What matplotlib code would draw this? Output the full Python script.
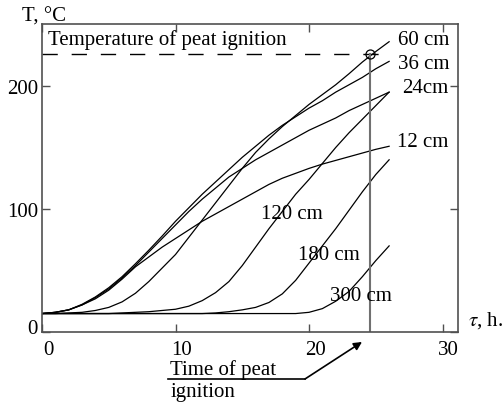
import matplotlib
matplotlib.use("Agg")
import matplotlib.pyplot as plt
from matplotlib.transforms import ScaledTranslation

plt.rcParams["font.family"] = ["Liberation Serif", "DejaVu Serif"]
plt.rcParams["font.size"] = 15

# ---- data ----
hours = [0, 1, 2, 3, 4, 5, 6, 7, 8, 9, 10, 11, 12, 13, 14, 15, 16, 17, 18, 19, 20, 21, 22, 23, 24, 25, 26]

temp_12 = [15, 16, 18, 22, 27, 34, 43, 53, 61, 69, 76, 83, 90, 96, 102, 108, 114, 120, 125, 129, 133, 136.5, 139.5, 142.5, 145.5, 148.5, 151]
temp_24 = [15, 16, 18, 22, 28, 35, 44, 54, 65, 76, 87, 98, 108, 117, 126, 133, 140, 146, 152, 158, 164, 169, 174, 180, 185, 190, 195]
temp_36 = [15, 16, 18, 22.5, 28.5, 36, 45, 55.5, 66.5, 78, 90, 101, 112, 122, 132, 142, 151, 160, 168, 175, 182, 188, 195, 201, 207, 214, 220]
temp_60 = [15, 15, 15.5, 16, 17.5, 20, 24.5, 31.5, 41, 52, 63, 77, 91, 105, 119, 133, 146, 157, 167, 176, 185, 193, 201, 210, 219.5, 228, 236]
temp_120 = [15, 15, 15, 15, 15, 15, 15.5, 16, 16.5, 17.5, 18.5, 21, 25.5, 32, 41, 54, 69, 84, 98, 112, 124, 137, 150, 162, 173, 184, 195]
temp_180 = [15, 15, 15, 15, 15, 15, 15, 15, 15, 15, 15, 15, 15, 15.5, 16.5, 18, 20, 24, 31, 42, 56, 70, 84, 99, 114, 128, 140]
temp_300 = [15, 15, 15, 15, 15, 15, 15, 15, 15, 15, 15, 15, 15, 15, 15, 15, 15, 15, 15, 15, 16, 19, 25, 33, 45, 58, 70]

ignition_time = 24.6
ignition_temp = 226

x_ticks = [0, 10, 20, 30]
y_ticks = [0, 100, 200]

# ---- figure ----
fig = plt.figure(figsize=(5.03, 4.06), dpi=100)
ax = fig.add_axes([42 / 503, 1 - 333 / 406, 416 / 503, 308 / 406])
ax.set_xlim(0, 31.16)
ax.set_ylim(0, 250.4)

for series in [temp_12, temp_24, temp_36, temp_60, temp_120, temp_180, temp_300]:
    ax.plot(hours, series, color="black", lw=0.9)

# ignition temperature and time
ax.plot([0, 25.5], [ignition_temp, ignition_temp], color="black", lw=1.0,
        linestyle=(0, (11, 10)))
ax.plot([ignition_time, ignition_time], [0, ignition_temp], color="#707070", lw=1.5)
ax.plot([ignition_time], [ignition_temp], marker="o", ms=6.5, mfc="none",
        mec="black", mew=0.9)

# curve labels
ax.text(26.7, 238, "60 cm", ha="left", va="center", clip_on=False)
ax.text(26.7, 218.5, "36 cm", ha="left", va="center", clip_on=False)
ax.text(26.95, 199, "24cm", ha="left", va="center", clip_on=False)
ax.text(26.6, 154.5, "12 cm", ha="left", va="center", clip_on=False)
ax.text(18.7, 96.5, "120 cm", ha="center", va="center")
ax.text(21.5, 63, "180 cm", ha="center", va="center")
ax.text(23.9, 30, "300 cm", ha="center", va="center")
ax.text(0.45, 238.5, "Temperature of peat ignition", ha="left", va="center")

# axis titles
ax.text(-1.5, 257, "T, °C", ha="left", va="center", clip_on=False)
ax.text(31.9, 10.5, r"$\tau$, h.", ha="left", va="center", clip_on=False,
        math_fontfamily="stix")

# time of ignition note with arrow
ax.text(9.6, -30, "Time of peat", ha="left", va="center", clip_on=False)
ax.text(9.6, -48, "ignition", ha="left", va="center", clip_on=False)
ax.plot([9.44, 19.7], [-38.2, -38.2], color="black", lw=1.2, clip_on=False)
ax.annotate("", xy=(23.97, -8.1), xytext=(19.7, -38.2),
            arrowprops=dict(arrowstyle="-|>", color="black", lw=1.2,
                            mutation_scale=12, shrinkA=0, shrinkB=0),
            annotation_clip=False)

# ticks and frame
ax.set_xticks(x_ticks)
ax.set_yticks(y_ticks)
ax.tick_params(direction="in", length=6, width=1.0, color="#505050",
               top=True, right=True, labelsize=15)
ax.tick_params(axis="x", pad=6)
ax.tick_params(axis="y", pad=3)
for side in ax.spines.values():
    side.set_color("#505050")
    side.set_linewidth(1.2)

shift = ScaledTranslation(6 / 100, 0, fig.dpi_scale_trans)
for lab in ax.get_xticklabels():
    lab.set_transform(lab.get_transform() + shift)
ylabs = ax.get_yticklabels()
ylabs[0].set_transform(ylabs[0].get_transform() + ScaledTranslation(0, 6 / 100, fig.dpi_scale_trans))

fig.savefig("out.png", dpi=100)
plt.close(fig)
